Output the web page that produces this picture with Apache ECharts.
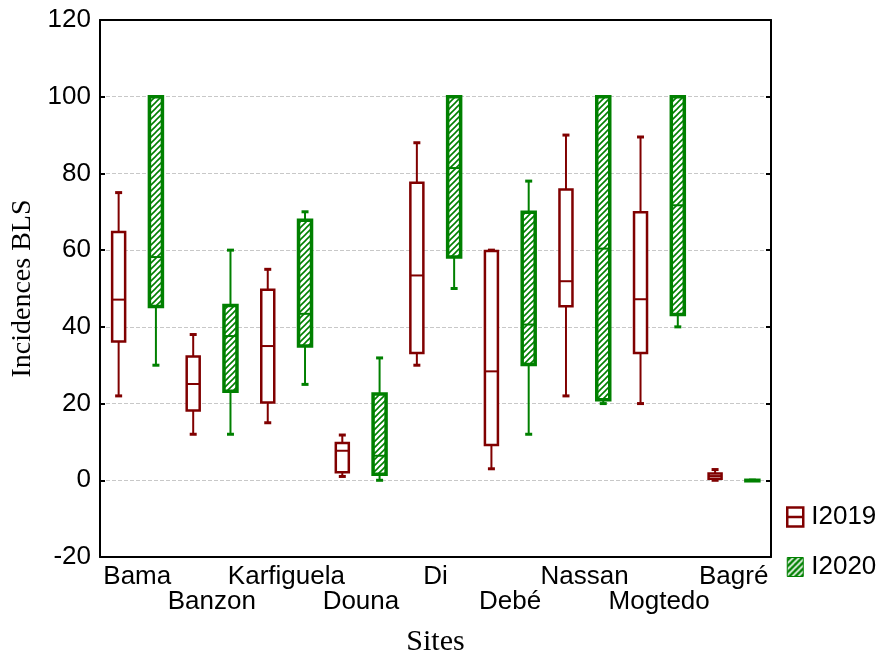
<!DOCTYPE html>
<html>
<head>
<meta charset="utf-8">
<script src="https://cdn.jsdelivr.net/npm/echarts@6/dist/echarts.min.js"></script>
<style>
  html, body { margin: 0; padding: 0; background: #fff; }
  #chart { width: 885px; height: 655px; }
</style>
</head>
<body>
<div id="chart"></div>
<script>
  // sites, in the order of the x axis
  const sites = ['Bama', 'Banzon', 'Karfiguela', 'Douna', 'Di', 'Debé', 'Nassan', 'Mogtedo', 'Bagré'];
  const yTicks = [-20, 0, 20, 40, 60, 80, 100, 120];
  // [min, q1, median, q3, max] per site
  const stats2019 = [
    [22, 36.2, 47.1, 64.7, 75],
    [12, 18.2, 25.1, 32.3, 38],
    [15, 20.3, 35, 49.7, 55],
    [1, 2.1, 7.7, 9.7, 11.8],
    [30, 33.2, 53.4, 77.6, 88],
    [3, 9.2, 28.4, 59.8, 60],
    [22, 45.4, 51.9, 75.8, 90],
    [20, 33.2, 47.2, 69.9, 89.5],
    [0, 0.4, 1.1, 1.8, 2.8]
  ];
  const stats2020 = [
    [30, 45.3, 58.2, 100, 100],
    [12, 23.2, 37.6, 45.6, 60],
    [25, 35, 43.4, 67.8, 70],
    [0, 1.6, 6.4, 22.5, 31.9],
    [50, 58.2, 81.4, 100, 100],
    [12, 30.2, 40.6, 69.9, 78],
    [20, 21, 60.4, 100, 100],
    [40, 43.2, 71.7, 100, 100],
    [0, 0, 0, 0, 0]
  ];

  const RED = '#800000';
  const GREEN = '#008000';

  function hatch(bg, fg) {
    const c = document.createElement('canvas');
    c.width = 6;
    c.height = 6;
    const ctx = c.getContext('2d');
    ctx.fillStyle = bg;
    ctx.fillRect(0, 0, 6, 6);
    ctx.strokeStyle = fg;
    ctx.lineWidth = 1.6;
    ctx.beginPath();
    ctx.moveTo(-1, 7); ctx.lineTo(7, -1);
    ctx.moveTo(-1, 1); ctx.lineTo(1, -1);
    ctx.moveTo(5, 7); ctx.lineTo(7, 5);
    ctx.stroke();
    return c;
  }
  const boxHatch = hatch('#ffffff', GREEN);
  const iconHatch = hatch(GREEN, '#ffffff');

  function toRows(stats) {
    return stats.map((s, i) => [i].concat(s));
  }

  function boxRenderer(side, color, fill, boxLw, boxW) {
    return function (params, api) {
      const cat = api.value(0);
      const band = api.size([1, 0])[0];
      const cx = api.coord([cat, 0])[0] + side * band * 0.25;
      const yMin = api.coord([cat, api.value(1)])[1];
      const yQ1 = api.coord([cat, api.value(2)])[1];
      const yMed = api.coord([cat, api.value(3)])[1];
      const yQ3 = api.coord([cat, api.value(4)])[1];
      const yMax = api.coord([cat, api.value(5)])[1];
      const capW = 7;
      const line = { stroke: color, lineWidth: 2 };
      const cap = { stroke: color, lineWidth: 3 };
      return {
        type: 'group',
        children: [
          { type: 'line', shape: { x1: cx, y1: yMax, x2: cx, y2: yQ3 }, style: line },
          { type: 'line', shape: { x1: cx, y1: yQ1, x2: cx, y2: yMin }, style: line },
          { type: 'line', shape: { x1: cx - capW / 2, y1: yMax, x2: cx + capW / 2, y2: yMax }, style: cap },
          { type: 'line', shape: { x1: cx - capW / 2, y1: yMin, x2: cx + capW / 2, y2: yMin }, style: cap },
          {
            type: 'rect',
            shape: { x: cx - boxW / 2, y: yQ3, width: boxW, height: Math.max(yQ1 - yQ3, 0.5) },
            style: { fill: fill, stroke: color, lineWidth: boxLw }
          },
          { type: 'line', shape: { x1: cx - boxW / 2, y1: yMed, x2: cx + boxW / 2, y2: yMed }, style: { stroke: color, lineWidth: 2 } }
        ]
      };
    };
  }

  const chart = echarts.init(document.getElementById('chart'), null, { renderer: 'canvas' });
  const sansFont = "'Liberation Sans', Arial, sans-serif";
  const serifFont = "'Liberation Serif', 'Times New Roman', serif";

  const option = {
    animation: false,
    backgroundColor: '#ffffff',
    grid: { left: 100, right: 114, top: 20, bottom: 98, containLabel: false, outerBoundsMode: 'none' },
    legend: {
      orient: 'vertical',
      left: 786,
      top: 504,
      padding: 0,
      itemWidth: 16,
      itemHeight: 19,
      itemGap: 24,
      textStyle: { fontFamily: sansFont, fontSize: 26, color: '#000', padding: [0, 0, 0, 3] },
      data: [
        {
          name: 'I2019',
          icon: 'path://M0,0H16V9.5H0Z M0,9.5H16V19H0Z',
          itemStyle: { color: '#ffffff', borderColor: RED, borderWidth: 2.5 }
        },
        {
          name: 'I2020',
          icon: 'rect',
          itemStyle: { color: { image: iconHatch, repeat: 'repeat' }, borderColor: GREEN, borderWidth: 1 }
        }
      ]
    },
    xAxis: [
      {
        type: 'category',
        data: sites,
        position: 'bottom',
        boundaryGap: true,
        name: 'Sites',
        nameLocation: 'middle',
        nameGap: 70,
        nameTextStyle: { fontFamily: serifFont, fontSize: 30, color: '#000' },
        axisLine: { onZero: false, lineStyle: { color: '#000', width: 2 } },
        axisTick: { inside: true, alignWithLabel: true, length: 5, lineStyle: { color: '#000', width: 2 } },
        axisLabel: {
          fontFamily: sansFont,
          fontSize: 26,
          color: '#000',
          margin: 7,
          lineHeight: 25,
          interval: 0,
          formatter: (v, i) => (i % 2 ? '\n' + v : v)
        },
        splitLine: { show: false }
      },
      {
        type: 'category',
        data: sites,
        position: 'top',
        boundaryGap: true,
        axisLine: { onZero: false, lineStyle: { color: '#000', width: 2 } },
        axisTick: { inside: true, alignWithLabel: true, length: 5, lineStyle: { color: '#000', width: 2 } },
        axisLabel: { show: false },
        splitLine: { show: false }
      }
    ],
    yAxis: [
      {
        type: 'value',
        min: yTicks[0],
        max: yTicks[yTicks.length - 1],
        interval: 20,
        position: 'left',
        name: 'Incidences BLS',
        nameLocation: 'middle',
        nameRotate: 90,
        nameGap: 62,
        nameTextStyle: { fontFamily: serifFont, fontSize: 28, color: '#000' },
        axisLine: { show: true, onZero: false, lineStyle: { color: '#000', width: 2 } },
        axisTick: { show: true, inside: true, length: 5, lineStyle: { color: '#000', width: 2 } },
        axisLabel: { fontFamily: sansFont, fontSize: 26, color: '#000', margin: 9 },
        splitLine: { show: true, lineStyle: { color: '#c8c8c8', type: 'dashed', width: 1 } }
      },
      {
        type: 'value',
        min: yTicks[0],
        max: yTicks[yTicks.length - 1],
        interval: 20,
        position: 'right',
        axisLine: { show: true, onZero: false, lineStyle: { color: '#000', width: 2 } },
        axisTick: { show: true, inside: true, length: 5, lineStyle: { color: '#000', width: 2 } },
        axisLabel: { show: false },
        splitLine: { show: false }
      }
    ],
    series: [
      {
        name: 'I2019',
        type: 'custom',
        xAxisIndex: 0,
        yAxisIndex: 0,
        itemStyle: { color: RED },
        encode: { x: 0, y: [1, 2, 3, 4, 5] },
        renderItem: boxRenderer(-1, RED, '#ffffff', 2.5, 13),
        data: toRows(stats2019),
        z: 3
      },
      {
        name: 'I2020',
        type: 'custom',
        xAxisIndex: 0,
        yAxisIndex: 0,
        itemStyle: { color: GREEN },
        encode: { x: 0, y: [1, 2, 3, 4, 5] },
        renderItem: boxRenderer(1, GREEN, { image: boxHatch, repeat: 'repeat' }, 3.5, 13),
        data: toRows(stats2020),
        z: 3
      }
    ]
  };

  chart.setOption(option);
</script>
</body>
</html>
